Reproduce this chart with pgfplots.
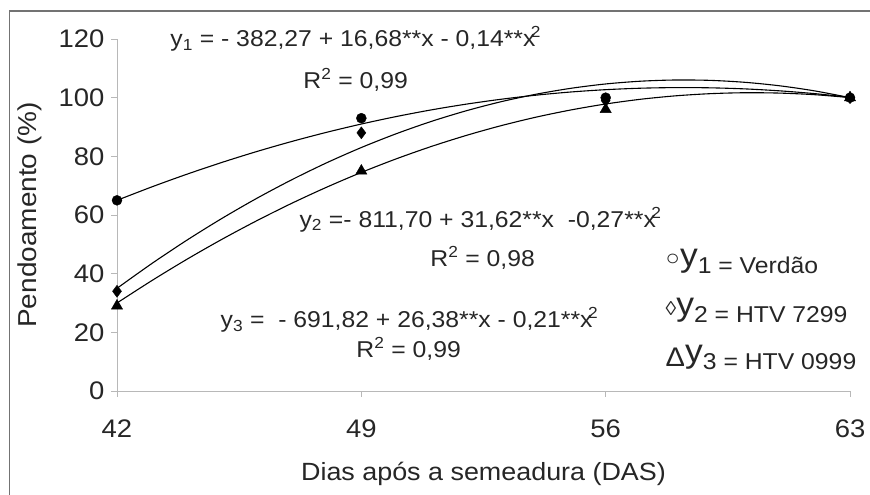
\documentclass[border=0pt]{standalone}
\usepackage{fontspec}
\setmainfont{Liberation Sans}[FakeStretch=1.08]
\usepackage{pgfplots}
\pgfplotsset{compat=1.18}

% fitted curves at each day
\pgfplotstableread{
x   y1      y2      y3
42  65.00   35.00   30.00
43  69.59   43.47   37.65
44  73.89   51.40   44.88
45  77.90   58.79   51.67
46  81.62   65.65   58.02
47  85.04   71.97   63.95
48  88.17   77.76   69.44
49  91.01   83.00   74.51
50  93.56   87.70   79.14
51  95.82   91.88   83.34
52  97.78   95.51   87.10
53  99.45   98.61   90.44
54  100.84  101.16  93.34
55  101.93  103.18  95.80
56  102.72  104.67  97.84
57  103.22  105.61  99.45
58  103.43  106.02  100.62
59  103.35  105.89  101.36
60  102.98  105.22  101.68
61  102.31  104.02  101.55
62  101.36  102.28  101.00
63  100.11  100.00  100.02
}\curves

\newcommand{\fs}{\fontsize{23}{27}\selectfont}
\newcommand{\bigy}{\raisebox{7bp}{\fontsize{33}{36}\selectfont y}}
\newcommand{\sq}{x\kern-.2em\textsuperscript{2}}

\begin{document}
\begin{tikzpicture}[x=1bp,y=1bp]
\path[use as bounding box] (0,0) rectangle (870,495);
\draw[black!55, line width=1.6bp] (9.5,0) -- (9.5,484) -- (870,484);
\begin{axis}[
  at={(117bp,104bp)}, anchor=south west,
  scale only axis, width=733bp, height=352bp,
  xmin=42, xmax=63, ymin=0, ymax=120,
  xtick={42,49,56,63}, ytick={0,20,...,120},
  axis x line*=bottom, axis y line*=left,
  axis line style={black!28, line width=0.8bp},
  tick style={black!28, line width=0.8bp},
  tick align=outside, major tick length=6bp,
  /pgf/number format/assume math mode=true,
  ticklabel style={font=\fontsize{25.5}{30}\selectfont, text=black!85},
  xticklabel style={yshift=-19bp},
  yticklabel style={xshift=-3bp},
  xlabel={Dias após a semeadura (DAS)},
  ylabel={Pendoamento (\%)},
  xlabel style={font=\fontsize{25}{30}\selectfont, text=black!85,
    at={(axis description cs:0.5,-0.253)}, anchor=base},
  ylabel style={font=\fontsize{26}{30}\selectfont, text=black!85,
    at={(axis description cs:-0.119,0.5)}, anchor=center},
  clip=false,
]
\addplot[black, line width=1.1bp, smooth, no marks] table[x=x, y=y1] {\curves};
\addplot[black, line width=1.1bp, smooth, no marks] table[x=x, y=y2] {\curves};
\addplot[black, line width=1.1bp, smooth, no marks] table[x=x, y=y3] {\curves};

\addplot[only marks, mark=triangle*, mark size=6.5bp, black] coordinates {(42,29) (49,75) (56,96) (63,100)};
\addplot[only marks, mark=diamond*, mark size=6bp, black] coordinates {(42,34) (49,88) (56,99) (63,100)};
\addplot[only marks, mark=*, mark size=5bp, black] coordinates {(42,65) (49,93) (56,100) (63,100)};

\node[anchor=base west, font=\fs, text=black!85] at (axis cs:43.43,117.3) {y\textsubscript{1} = - 382,27 + 16,68**x - 0,14**\sq};
\node[anchor=base west, font=\fs, text=black!85] at (axis cs:47.24,103.0) {R\textsuperscript{2} = 0,99};
\node[anchor=base west, font=\fs, text=black!85] at (axis cs:47.13,55.9) {y\textsubscript{2} =- 811,70 + 31,62**x \ -0,27**\sq};
\node[anchor=base west, font=\fs, text=black!85] at (axis cs:50.88,42.3) {R\textsuperscript{2} = 0,98};
\node[anchor=base west, font=\fs, text=black!85] at (axis cs:44.87,21.5) {y\textsubscript{3} = \ - 691,82 + 26,38**x - 0,21**\sq};
\node[anchor=base west, font=\fs, text=black!85] at (axis cs:48.76,11.3) {R\textsuperscript{2} = 0,99};

\node[anchor=base west, font=\fs, text=black!85] at (axis cs:57.62,39.9)
  {\raisebox{8bp}{\fontsize{22}{22}\selectfont ○}\bigy1 = Verdão};
\node[anchor=base west, font=\fs, text=black!85] at (axis cs:57.62,23.2)
  {\raisebox{7bp}{\fontsize{20}{20}\selectfont ◊}\bigy2 = HTV 7299};
\node[anchor=base west, font=\fs, text=black!85] at (axis cs:57.62,7.2)
  {\raisebox{3bp}{\fontsize{27}{27}\selectfont Δ}\bigy3 = HTV 0999};
\end{axis}
\end{tikzpicture}
\end{document}
